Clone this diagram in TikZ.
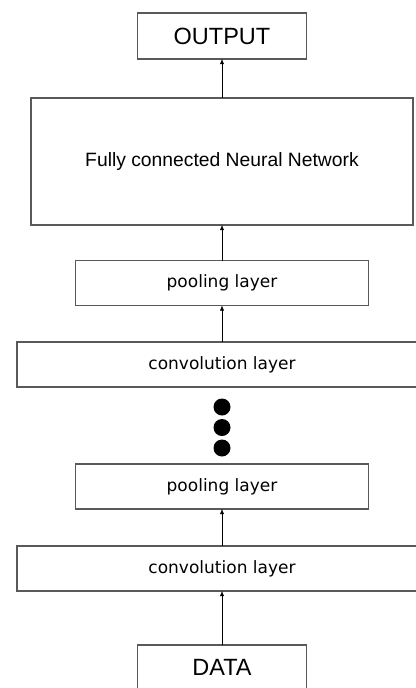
\documentclass[tikz,border=0pt]{standalone}
\usepackage{fontspec}
\setmainfont{Liberation Sans}
\newfontfamily\layerfont{DejaVu Sans}
\usetikzlibrary{arrows.meta}

\begin{document}
\begin{tikzpicture}[x=1pt, y=-1pt,
      block/.style={rectangle, draw=black!65, line width=1.1pt, inner sep=0pt, outer sep=0pt},
      io/.style={block, minimum width=169pt, minimum height=46pt, font=\fontsize{23.5}{28}\selectfont},
      layer/.style={block, minimum height=45pt, font=\layerfont\fontsize{17}{20}\selectfont},
      dot/.style={circle, fill=black, minimum size=17pt, inner sep=0pt}]
      \useasboundingbox (0,0) rectangle (415,688);
      \node[io](output) at (222, 36){OUTPUT};
      \node[block, minimum width=382pt, minimum height=127pt,
            font=\fontsize{19.3}{23}\selectfont](fcnn) at (222, 161.5){Fully connected Neural Network};
      \node[layer, minimum width=293pt](pool1) at (222, 283){pooling layer};
      \node[layer, minimum width=410pt](conv1) at (222, 364.5){convolution layer};
      \node[dot](d1) at (222, 407){};
      \node[dot](d2) at (222, 427.5){};
      \node[dot](d3) at (222, 448){};
      \node[layer, minimum width=293pt](pool2) at (222, 486.5){pooling layer};
      \node[layer, minimum width=410pt](conv2) at (222, 568.5){convolution layer};
      \node[io, minimum height=45pt](data) at (222, 667.5){DATA};
      \draw[-{Latex[length=5pt,width=4pt]}] (data) edge (conv2);
      \draw[-{Latex[length=5pt,width=4pt]}] (conv2) edge (pool2);
      \draw[-{Latex[length=5pt,width=4pt]}] (conv1) edge (pool1);
      \draw[-{Latex[length=5pt,width=4pt]}] (pool1) edge (fcnn);
      \draw[-{Latex[length=5pt,width=4pt]}] (fcnn) edge (output);
    \end{tikzpicture}
\end{document}
